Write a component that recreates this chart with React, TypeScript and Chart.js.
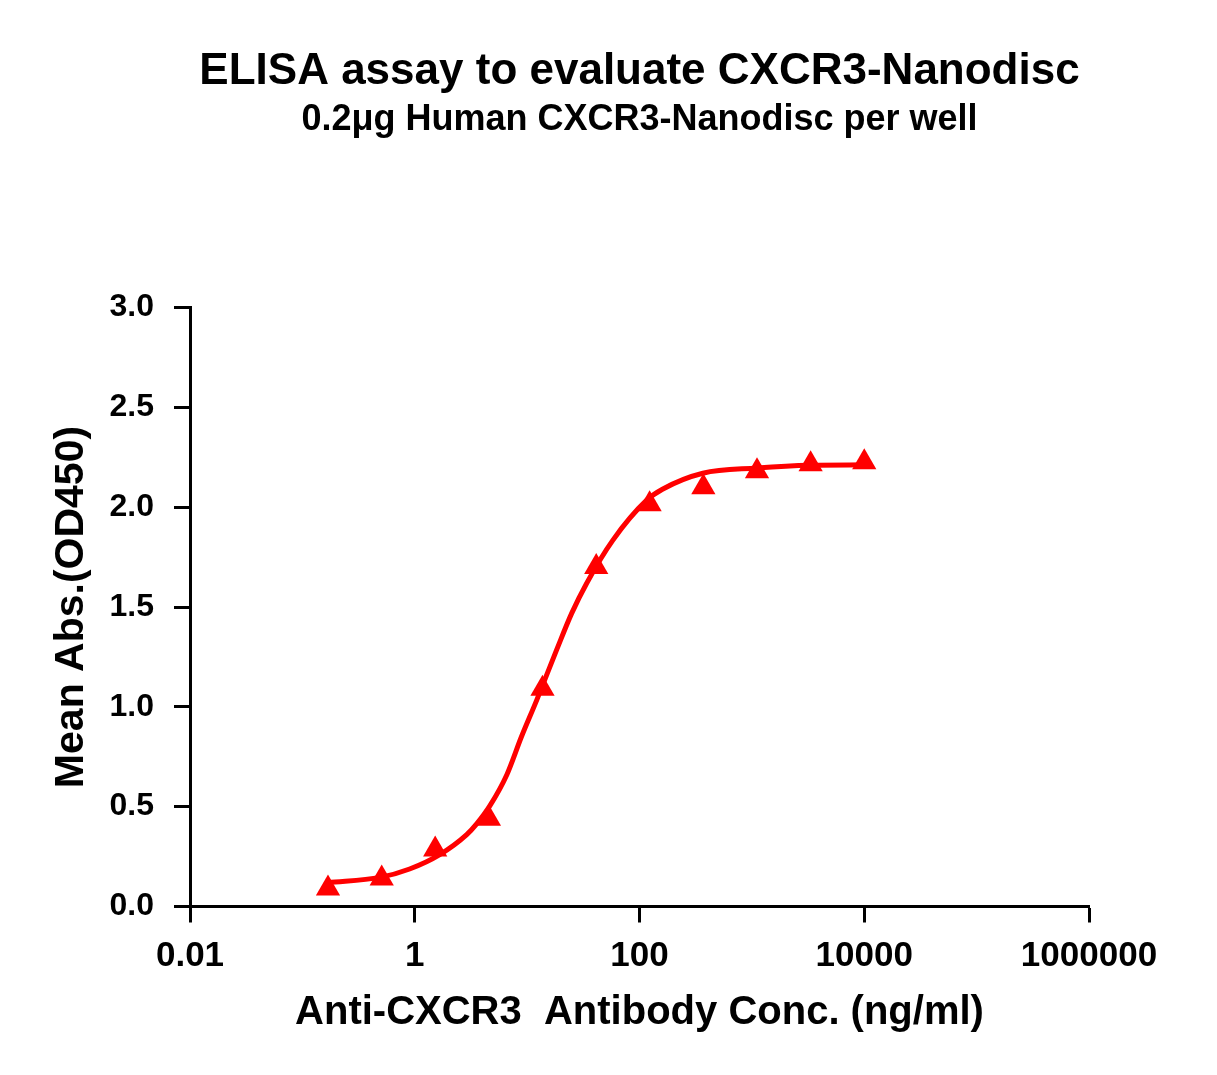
import React, { useRef, useEffect } from 'react';
import { Chart, registerables } from 'chart.js';

Chart.register(...registerables);

const FONT = '"Liberation Sans", Arial, Helvetica, sans-serif';
const RED = '#ff0000';

// measured points (3-fold dilution series, ng/ml)
const concentrations = [0.169, 0.508, 1.52, 4.57, 13.7, 41.2, 123, 370, 1111, 3333, 10000];
const meanAbs = [0.09, 0.14, 0.285, 0.44, 1.09, 1.7, 2.015, 2.1, 2.18, 2.215, 2.225];

// fitted curve
const fitConc = [0.169, 0.49, 0.9, 1.67, 2.9, 3.57, 4.67, 6.6, 8.9, 12.2, 18.3, 24.9, 33.8, 58, 116, 160, 366, 1107, 3281, 10000];
const fitAbs = [0.12, 0.146, 0.188, 0.26, 0.36, 0.415, 0.505, 0.66, 0.85, 1.035, 1.285, 1.468, 1.618, 1.835, 2.035, 2.09, 2.17, 2.196, 2.21, 2.212];

const xTicks = [0.01, 1, 100, 10000, 1000000];
const yTicks = [0, 0.5, 1, 1.5, 2, 2.5, 3];

const App: React.FC = () => {
  const canvasRef = useRef<HTMLCanvasElement>(null);

  useEffect(() => {
    if (!canvasRef.current) return;
    const chart = new Chart(canvasRef.current, {
      type: 'scatter',
      data: {
        datasets: [
          {
            label: 'fit',
            data: fitConc.map((x, i) => ({ x, y: fitAbs[i] })),
            showLine: true,
            borderColor: RED,
            borderWidth: 5,
            cubicInterpolationMode: 'monotone',
            pointRadius: 0,
          },
          {
            label: 'CXCR3-Nanodisc',
            data: concentrations.map((x, i) => ({ x, y: meanAbs[i] })),
            showLine: false,
            pointStyle: 'triangle',
            pointRadius: 14,
            backgroundColor: RED,
            borderColor: RED,
            borderWidth: 0,
          },
        ],
      },
      options: {
        responsive: true,
        maintainAspectRatio: false,
        animation: false,
        layout: { padding: { left: 0, top: 0, right: 128, bottom: 0 } },
        plugins: {
          legend: { display: false },
          tooltip: { enabled: false },
          title: {
            display: true,
            fullSize: false,
            text: 'ELISA assay to evaluate CXCR3-Nanodisc',
            color: '#000',
            font: { family: FONT, size: 44, weight: 'bold' },
            padding: { top: 45.5, bottom: 0 },
          },
          subtitle: {
            display: true,
            fullSize: false,
            text: '0.2μg Human CXCR3-Nanodisc per well',
            color: '#000',
            font: { family: FONT, size: 36, weight: 'bold' },
            padding: { top: 0, bottom: 166 },
          },
        },
        scales: {
          x: {
            type: 'logarithmic',
            position: 'bottom',
            min: 0.01,
            max: 1000000,
            afterBuildTicks: (scale) => {
              scale.ticks = xTicks.map((value) => ({ value }));
            },
            afterFit: (scale) => {
              scale.height = 1075 - 906.5;
            },
            ticks: {
              color: '#000',
              font: { family: FONT, size: 35, weight: 'bold' },
              padding: 13,
              maxRotation: 0,
              autoSkip: false,
              callback: (v) => String(v),
            },
            grid: {
              display: true,
              drawOnChartArea: false,
              drawTicks: true,
              tickLength: 16,
              tickWidth: 3,
              tickColor: '#000',
            },
            border: { display: true, width: 3, color: '#000' },
            title: {
              display: true,
              text: 'Anti-CXCR3  Antibody Conc. (ng/ml)',
              color: '#000',
              font: { family: FONT, size: 40, weight: 'bold' },
              padding: { top: 0, bottom: 38 },
            },
          },
          y: {
            type: 'linear',
            min: 0,
            max: 3,
            afterBuildTicks: (scale) => {
              scale.ticks = yTicks.map((value) => ({ value }));
            },
            afterFit: (scale) => {
              scale.width = 190;
            },
            ticks: {
              color: '#000',
              font: { family: FONT, size: 32, weight: 'bold' },
              padding: 20,
              callback: (v) => Number(v).toFixed(1),
            },
            grid: {
              display: true,
              drawOnChartArea: false,
              drawTicks: true,
              tickLength: 16,
              tickWidth: 3,
              tickColor: '#000',
            },
            border: { display: true, width: 3, color: '#000' },
            title: {
              display: true,
              text: 'Mean Abs.(OD450)',
              color: '#000',
              font: { family: FONT, size: 41, weight: 'bold' },
              padding: { top: 47, bottom: 0 },
            },
          },
        },
      },
    });
    return () => { chart.destroy(); };
  }, []);

  return (
    <div style={{ position: 'fixed', left: 0, top: 0, width: 1217, height: 1075, background: '#fff' }}>
      <canvas ref={canvasRef} />
    </div>
  );
};

export default App;
